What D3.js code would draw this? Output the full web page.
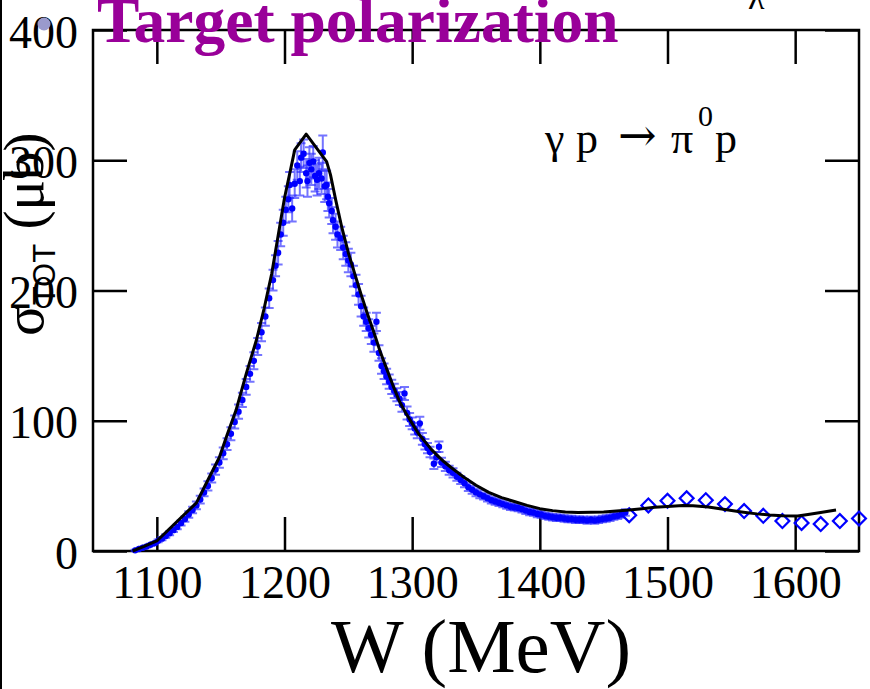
<!DOCTYPE html>
<html>
<head>
<meta charset="utf-8">
<script src="https://cdn.jsdelivr.net/npm/d3@7"></script>
<style>
  html, body { margin: 0; padding: 0; background: #fff; }
  svg { display: block; }
</style>
</head>
<body>
<svg id="chart" width="870" height="689"></svg>
<script>
// Total cross section of gamma p -> pi0 p

// Measured points (filled circles with error bars)
const W_DATA = [1083,1086,1089,1092,1095,1098,1101,1104,1107,1110,1113,1116,1119,1122,1125,1128,1131,1134,1137,1140,1143,1146,1149,1152,1155,1158,1161,1164,1167,1170,1173,1176,1179,1182,1185,1188,1191,1193,1195,1197,1199,1201,1203,1204,1206,1208,1210,1212,1213,1215,1217,1218,1219.5,1221,1222.5,1224,1225.5,1227,1229,1230,1231.5,1233,1234,1235,1237,1238,1240,1241.5,1244,1246,1248,1250,1252,1254,1256,1258,1260,1262,1264,1266,1268,1270,1272,1274,1276,1278,1280,1282,1284,1286,1288,1290,1292,1294,1296,1298,1300,1302,1304,1306,1308,1310,1312,1314,1317,1319,1321,1323,1326,1329,1332,1335,1338,1341,1344,1347,1350,1353,1356,1359,1362,1365,1368,1371,1374,1377,1380,1383,1386,1389,1392,1395,1398,1401,1404,1407,1410,1413,1416,1419,1422,1425,1428,1431,1434,1437,1440,1443,1446,1449,1452,1455,1458,1461,1464,1467];
const SIG_DATA = [0.5,1.5,2.5,3.5,4.8,6.0,7.8,9.5,11.5,13.6,16,18.5,21.5,24.5,28,31.5,35,39.5,45,50,56,62.5,68,75,82,90,99,107,116,126,136,146,157,168,180,194,208,219,229,243,252,262,270,281,263,282,296,284,302,305,290,284,298,293,299,288,285,290,286,306,280,281,272,267,261,254,249,243,240,233,228,223,220,211,204,197,188,180,176,171,166,160,176,152,142,138,134,130,126,123,120,117,112,121,106,101,98,94,91,98,86,82,79,76,67,72,80,68,65,62,60,57,54.5,52,49,47,45,43.5,42,40.5,39,38,37,36,35,34,33.5,33,32,31,30,29.5,28.5,28,27,26.5,26,25.5,25.5,25,24.5,24.5,24,24,24,23.5,24,23.5,24,24.5,25,25.5,26.5,27,28,29.5];
const ERR_DATA = [0.5,0.6,0.7,0.8,0.8,1,1,1.2,1.3,1.5,1.5,1.8,2,2,2.5,2.5,3,3,3,3.5,3.5,4,4,4.5,4.5,5,5,5.5,5.5,6,6,6.5,6.5,7,7,7.5,8,8,9,9,10,10,10,10,10,11,11,11,11,11,11,12,12,12,12,12,12,12,12,13,12,11,11,11,10,10,10,10,9,9,9,9,9,8,8,8,8,7,7,7,7,7,7,6,6,6,6,5.5,5.5,5.5,5,5,5,5,5,5,4.5,4.5,4.5,5,4.5,4,4,4,4,4,4,3.5,3.5,3.5,3.5,3,3,3,3,3,3,3,2.5,2.5,2.5,2.5,2.5,2.5,2.5,2.5,2.5,2.5,2.5,2.5,2.5,2.5,2.5,2.5,2.5,2.5,2.5,2.5,2.5,2.5,2.5,2.5,2.5,2.5,2.5,2.5,2.5,2.5,2.5,2.5,2.5,2.5,2.5,2.5,2.5,2.5];

// Higher-energy points (open diamonds)
const W_HIGH = [1470,1485,1500,1515,1530,1545,1560,1575,1590,1605,1620,1635,1650];
const SIG_HIGH = [27.5,35,38.5,40.5,39,36,30.7,27,23,21.5,20.7,23,25];

// Model curve
const W_MODEL = [1081,1090,1100,1131,1140,1149,1155,1162,1166,1170,1174,1178,1184,1190,1195,1200,1205,1208,1217,1233,1236,1240,1245,1250,1255,1260,1265,1270,1275,1280,1285,1290,1295,1300,1305,1310,1315,1320,1325,1330,1340,1350,1360,1370,1380,1390,1400,1410,1420,1430,1440,1450,1460,1470,1480,1490,1500,1512,1520,1532,1545,1558,1570,1580,1590,1602,1610,1620,1632];
const SIG_MODEL = [0,3.5,7.7,37,54.5,72,89,108,122,136,149,162,186,213,242,271,294,308,320,299,289,270,248,229,213,197,182,168,153,140,127,115,106,98,90,84,78,73,68.5,64.5,57,50.5,45,41,38,35,32.5,31,30,29.5,29.8,30,30.8,31.5,32.5,33.5,34.2,35,34.7,33.8,31.8,30,28.5,27.6,27,26.8,28,29.5,31.5];

const X_TICKS = [1100,1200,1300,1400,1500,1600];
const Y_TICKS = [0,100,200,300,400];

const svg = d3.select("#chart");
const margin = {left: 93, right: 11, top: 30, bottom: 138};
const width = 870 - margin.left - margin.right;
const height = 689 - margin.top - margin.bottom;

const x = d3.scaleLinear().domain([1050, 1650]).range([0, width]);
const y = d3.scaleLinear().domain([0, 400]).range([height, 0]);

const serif = "'Liberation Serif','Times New Roman',serif";
const sans = "'Liberation Sans',Arial,sans-serif";

// thin rule along the left page edge
svg.append("line").attr("x1", 1).attr("x2", 1).attr("y1", 0).attr("y2", 689)
  .attr("stroke", "#000").attr("stroke-width", 2);

const g = svg.append("g").attr("transform", `translate(${margin.left},${margin.top})`);

const tickLen = 34;
const tickFont = 46;

// axes with inward ticks
const xb = g.append("g").attr("transform", `translate(0,${height})`)
  .call(d3.axisBottom(x).tickValues(X_TICKS).tickSize(-tickLen).tickSizeOuter(0).tickPadding(14).tickFormat(d3.format("d")));
const xt = g.append("g")
  .call(d3.axisTop(x).tickValues(X_TICKS).tickSize(-tickLen).tickSizeOuter(0).tickFormat(""));
const yl = g.append("g")
  .call(d3.axisLeft(y).tickValues(Y_TICKS).tickSize(-tickLen).tickSizeOuter(0).tickPadding(15).tickFormat(d3.format("d")));
const yr = g.append("g").attr("transform", `translate(${width},0)`)
  .call(d3.axisRight(y).tickValues(Y_TICKS).tickSize(-tickLen).tickSizeOuter(0).tickFormat(""));

[xb, xt, yl, yr].forEach(a => {
  a.select(".domain").remove();
  a.selectAll(".tick line").attr("stroke", "#000").attr("stroke-width", 2.5);
  a.selectAll(".tick text").attr("fill", "#000").style("font-family", serif).style("font-size", tickFont + "px");
});
yl.selectAll(".tick text").attr("dy", "0.37em");

// frame
g.append("rect").attr("x", 0).attr("y", 0).attr("width", width).attr("height", height)
  .attr("fill", "none").attr("stroke", "#000").attr("stroke-width", 2.5);

const data = W_DATA.map((w, i) => ({w, s: SIG_DATA[i], e: ERR_DATA[i]}));

// error bars
const eb = g.append("g").attr("stroke", "#2a2aff").attr("stroke-opacity", 0.65).attr("stroke-width", 2).attr("fill", "none");
eb.selectAll("path").data(data).join("path")
  .attr("d", d => {
    const cx = x(d.w), y0 = y(d.s - d.e), y1 = y(d.s + d.e), c = 4.5;
    return `M${cx},${y0}V${y1}M${cx - c},${y1}H${cx + c}M${cx - c},${y0}H${cx + c}`;
  });

// measured points
g.append("g").attr("fill", "#0000ff").selectAll("circle").data(data).join("circle")
  .attr("cx", d => x(d.w)).attr("cy", d => y(d.s)).attr("r", 3.2);

// open diamonds
const high = W_HIGH.map((w, i) => ({w, s: SIG_HIGH[i]}));
g.append("g").selectAll("path").data(high).join("path")
  .attr("d", d3.symbol(d3.symbolSquare, 96))
  .attr("transform", d => `translate(${x(d.w)},${y(d.s)}) rotate(45)`)
  .attr("fill", "none").attr("stroke", "#0000ff").attr("stroke-width", 2.2);

// model curve
const model = W_MODEL.map((w, i) => [w, SIG_MODEL[i]]);
g.append("path").datum(model)
  .attr("d", d3.line().x(d => x(d[0])).y(d => y(d[1])))
  .attr("fill", "none").attr("stroke", "#000").attr("stroke-width", 3).attr("stroke-linejoin", "round");

// reaction label
const rx = g.append("text").attr("y", 123).style("font-family", serif).style("font-size", "44px").attr("fill", "#000");
rx.append("tspan").attr("x", 452).text("γ");
rx.append("tspan").attr("x", 483).text("p");
rx.append("tspan").attr("x", 525).attr("y", 121).style("font-family", "'DejaVu Serif',serif").style("font-size", "46px").text("→");
rx.append("tspan").attr("x", 578).attr("y", 123).text("π");
rx.append("tspan").attr("x", 605).attr("y", 96).style("font-size", "30px").text("0");
rx.append("tspan").attr("x", 622).attr("y", 123).text("p");

// axis titles
svg.append("text").attr("x", 481).attr("y", 672).attr("text-anchor", "middle")
  .style("font-family", serif).style("font-size", "77px").attr("fill", "#000").text("W (MeV)");

const yt = svg.append("text").attr("transform", "translate(43,336) rotate(-90)")
  .style("font-family", serif).style("font-size", "57px").attr("fill", "#000");
yt.append("tspan").text("σ");
yt.append("tspan").attr("dy", 12).style("font-family", sans).style("font-size", "31px").text("TOT");
yt.append("tspan").attr("dy", -12).text(" (μb)");

// header
svg.append("text").attr("x", 97).attr("y", 42)
  .style("font-family", serif).style("font-weight", "bold").style("font-size", "63.5px")
  .attr("fill", "#990099").text("Target polarization");

svg.append("circle").attr("cx", 44).attr("cy", 24).attr("r", 6.5).attr("fill", "#9a9acc");

svg.append("text").attr("x", 748).attr("y", 9).style("font-family", serif).style("font-size", "34px")
  .attr("fill", "#000").text("λ");
</script>
</body>
</html>
